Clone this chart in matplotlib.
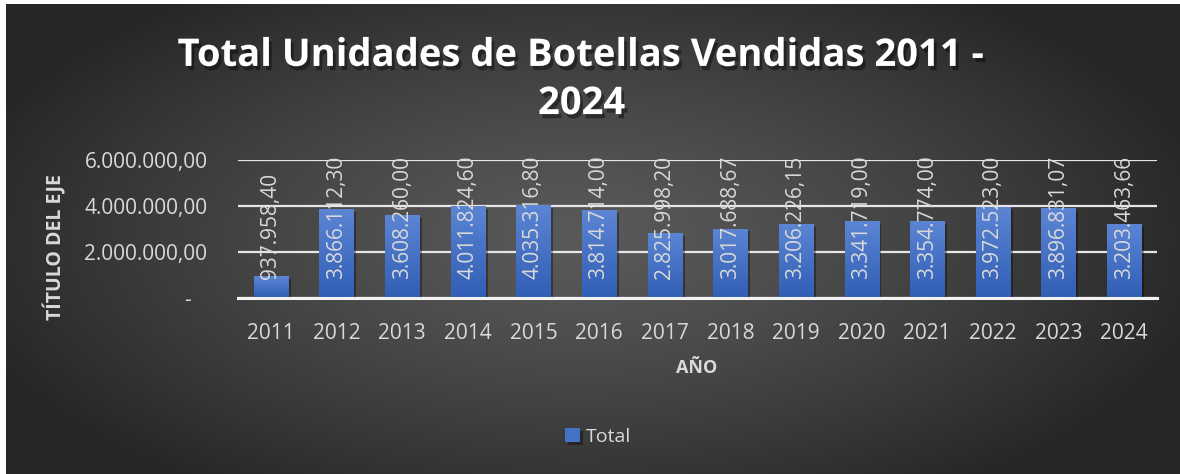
import numpy as np
import matplotlib
matplotlib.use("Agg")
import matplotlib.pyplot as plt
import matplotlib.patheffects as pe
from matplotlib.ticker import FuncFormatter
from matplotlib.patches import Rectangle

# ===============================
# Datos
# ===============================

years = ["2011", "2012", "2013", "2014", "2015", "2016", "2017",
         "2018", "2019", "2020", "2021", "2022", "2023", "2024"]
totals = [937958.40, 3866112.30, 3608260.00, 4011824.60, 4035316.80,
          3814714.00, 2825998.20, 3017688.67, 3206226.15, 3341719.00,
          3354774.00, 3972523.00, 3896831.07, 3203463.66]
y_ticks = [0, 2000000, 4000000, 6000000]

title = "Total Unidades de Botellas Vendidas 2011 -\n2024"
FONT = ["Open Sans", "DejaVu Sans"]
LIGHT = "#d9d9d9"


def es_format(v, pos=None):
    # formato contable español: 1.234.567,89 ; cero como "-"
    if v == 0:
        return "-   "
    s = f"{v:,.2f}"
    return s.replace(",", "X").replace(".", ",").replace("X", ".")


def main():
    plt.rcParams["font.family"] = FONT

    fig = plt.figure(figsize=(11.8, 4.74), dpi=100)
    fig.patch.set_facecolor("white")

    # Fondo con degradado radial (estilo Excel oscuro)
    bg = fig.add_axes([6 / 1180, 0, 1174 / 1180, 470 / 474], zorder=-10)
    gx, gy = np.meshgrid(np.linspace(-1, 1, 400), np.linspace(-1, 1, 200))
    r = np.sqrt(((gx + 0.02) / 1.1) ** 2 + ((gy + 0.0) / 1.3) ** 2)
    shade = np.clip(0.35 - 0.2 * r ** 1.3, 0.15, 0.35)
    bg.imshow(np.dstack([shade, shade, shade]), aspect="auto",
              extent=[0, 1, 0, 1], interpolation="bilinear")
    bg.set_axis_off()

    ax = fig.add_axes([238 / 1180, 1 - 298 / 474, 919 / 1180, 138 / 474])
    ax.patch.set_alpha(0)

    x = np.arange(len(years))
    bars = ax.bar(x, totals, width=0.52, color="#4472c4", zorder=3,
                  label="Total")

    # degradado vertical dentro de cada barra
    grad = np.linspace(0, 1, 100).reshape(-1, 1)
    top_c = np.array([0.36, 0.52, 0.83])
    bot_c = np.array([0.19, 0.37, 0.71])
    img = (grad[..., None] * top_c + (1 - grad[..., None]) * bot_c)
    for b in bars:
        b.set_path_effects([pe.SimplePatchShadow(offset=(2, -2), alpha=0.35,
                                                 shadow_rgbFace="black"),
                            pe.Normal()])
        im = ax.imshow(img, extent=[b.get_x(), b.get_x() + b.get_width(),
                                    0, b.get_height()],
                       origin="lower", aspect="auto", zorder=4)
        im.set_clip_path(Rectangle((b.get_x(), 0), b.get_width(),
                                   b.get_height(), transform=ax.transData))

    # etiquetas de datos (verticales, desde la base)
    for xi, v in zip(x, totals):
        ax.annotate(es_format(v), (xi, 0), xytext=(0, 14),
                    textcoords="offset points", rotation=90,
                    ha="center", va="bottom", fontsize=15, color=LIGHT,
                    zorder=6)

    ax.set_xlim(-0.5, len(years) - 0.5)
    ax.set_ylim(0, 6000000)
    ax.set_yticks(y_ticks)
    ax.yaxis.set_major_formatter(FuncFormatter(es_format))
    ax.set_xticks(x)
    ax.set_xticklabels(years)
    ax.tick_params(axis="y", length=0, pad=22, labelsize=15, labelcolor=LIGHT)
    ax.tick_params(axis="x", length=0, pad=18, labelsize=15, labelcolor=LIGHT)

    ax.grid(axis="y", color="#e6e6e6", linewidth=1.6, zorder=1)
    for side in ["top", "right", "left"]:
        ax.spines[side].set_visible(False)
    ax.spines["bottom"].set_color("#f2f2f2")
    ax.spines["bottom"].set_linewidth(2.2)
    ax.spines["bottom"].set_zorder(5)

    # títulos de ejes
    fig.text(697 / 1180, 1 - 368 / 474, "AÑO", ha="center", va="center",
             fontsize=13, fontweight="bold", color=LIGHT)
    fig.text(55 / 1180, 1 - 247 / 474, "TÍTULO DEL EJE", ha="center",
             va="center", rotation=90, fontsize=14, fontweight="bold",
             color=LIGHT)

    fig.text(0.493, 1 - 80 / 474, title, ha="center", va="center",
             fontsize=27.5, fontweight="bold", color="white", linespacing=1.35,
             path_effects=[pe.withSimplePatchShadow(offset=(2, -3),
                                                    shadow_rgbFace="black",
                                                    alpha=0.4)])

    leg = fig.legend(handles=[bars], labels=["Total"], loc="center",
                     bbox_to_anchor=(598 / 1180, 1 - 437 / 474), frameon=False,
                     fontsize=14, handlelength=0.75, handleheight=0.75,
                     handletextpad=0.3)
    for t in leg.get_texts():
        t.set_color(LIGHT)

    fig.savefig("out.png", dpi=100)


if __name__ == "__main__":
    main()
